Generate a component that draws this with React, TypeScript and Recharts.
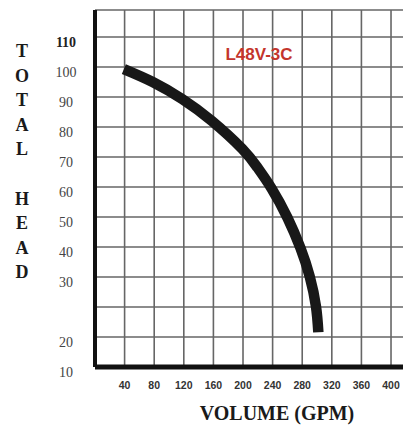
import React from "react";
import { LineChart, Line, XAxis, YAxis, CartesianGrid, Customized } from "recharts";

const volume = [39, 78, 118, 158, 199, 219.5, 238.4, 260, 277.7, 290.1, 298.6, 301.8];
const head = [99.3, 95, 89.3, 82, 72.7, 66.5, 59.6, 49.8, 39.6, 30.2, 20.2, 11.6];

const xTicks = [40, 80, 120, 160, 200, 240, 280, 320, 360, 400];
const yTicks = [0, 10, 20, 30, 40, 50, 60, 70, 80, 90, 100, 110, 119];
const yTickLabels = ["10", "20", "", "30", "40", "50", "60", "70", "80", "90", "100", "110", ""];

const modelName = "L48V-3C";
const yTitleLetters = ["T", "O", "T", "A", "L", "", "H", "E", "A", "D"];
const xTitle = "VOLUME (GPM)";

const chartData = volume.map((v, i) => ({ volume: v, head: head[i] }));

const XTick = (props: any) => {
  const { x, payload } = props;
  return (
    <text
      x={x}
      y={389}
      textAnchor="middle"
      fontFamily="'Liberation Sans', Arial, sans-serif"
      fontWeight="bold"
      fontSize={10.5}
      fill="#333"
    >
      {payload.value}
    </text>
  );
};

const YTick = (props: any) => {
  const { y, payload } = props;
  const idx = yTicks.indexOf(payload.value);
  const label = idx >= 0 ? yTickLabels[idx] : "";
  if (!label) return null;
  return (
    <text
      x={66}
      y={y + 10}
      textAnchor="middle"
      fontFamily="'Liberation Serif', 'Times New Roman', serif"
      fontWeight={label === "110" ? "bold" : "normal"}
      fontSize={14}
      fill={label === "110" ? "#222" : "#444"}
    >
      {label}
    </text>
  );
};

const Titles = () => (
  <g>
    <text
      x={22}
      y={57}
      textAnchor="middle"
      fontFamily="'Liberation Serif', 'Times New Roman', serif"
      fontWeight="bold"
      fontSize={18}
      fill="#1a1a1a"
    >
      {yTitleLetters.map((ch, i) => (
        <tspan key={i} x={22} dy={i === 0 ? 0 : 24.6}>
          {ch || "\u00a0"}
        </tspan>
      ))}
    </text>
    <text
      x={277}
      y={420}
      textAnchor="middle"
      fontFamily="'Liberation Serif', 'Times New Roman', serif"
      fontWeight="bold"
      fontSize={20}
      fill="#1a1a1a"
    >
      {xTitle}
    </text>
    <text
      x={259}
      y={60}
      textAnchor="middle"
      fontFamily="'Liberation Sans', Arial, sans-serif"
      fontWeight="bold"
      fontSize={17}
      fill="#c4352c"
    >
      {modelName}
    </text>
  </g>
);

export default function App() {
  return (
    <div style={{ marginTop: -8, marginLeft: -8, width: 411, height: 425, background: "#fff" }}>
      <LineChart width={411} height={425} data={chartData} margin={{ top: 10, right: 0, bottom: 0, left: 0 }}>
        <CartesianGrid stroke="#666" strokeWidth={1.6} />
        <XAxis
          type="number"
          dataKey="volume"
          domain={[0, 427]}
          ticks={xTicks}
          interval={0}
          allowDataOverflow
          height={58}
          axisLine={{ stroke: "#111", strokeWidth: 5 }}
          tickLine={false}
          tick={<XTick />}
        />
        <YAxis
          type="number"
          domain={[0, 119]}
          ticks={yTicks}
          interval={0}
          allowDataOverflow
          width={95}
          axisLine={{ stroke: "#111", strokeWidth: 4 }}
          tickLine={false}
          tick={<YTick />}
        />
        <Line
          dataKey="head"
          type="natural"
          stroke="#181818"
          strokeWidth={10.5}
          strokeLinecap="butt"
          dot={false}
          isAnimationActive={false}
        />
        <Customized component={Titles} />
      </LineChart>
    </div>
  );
}
